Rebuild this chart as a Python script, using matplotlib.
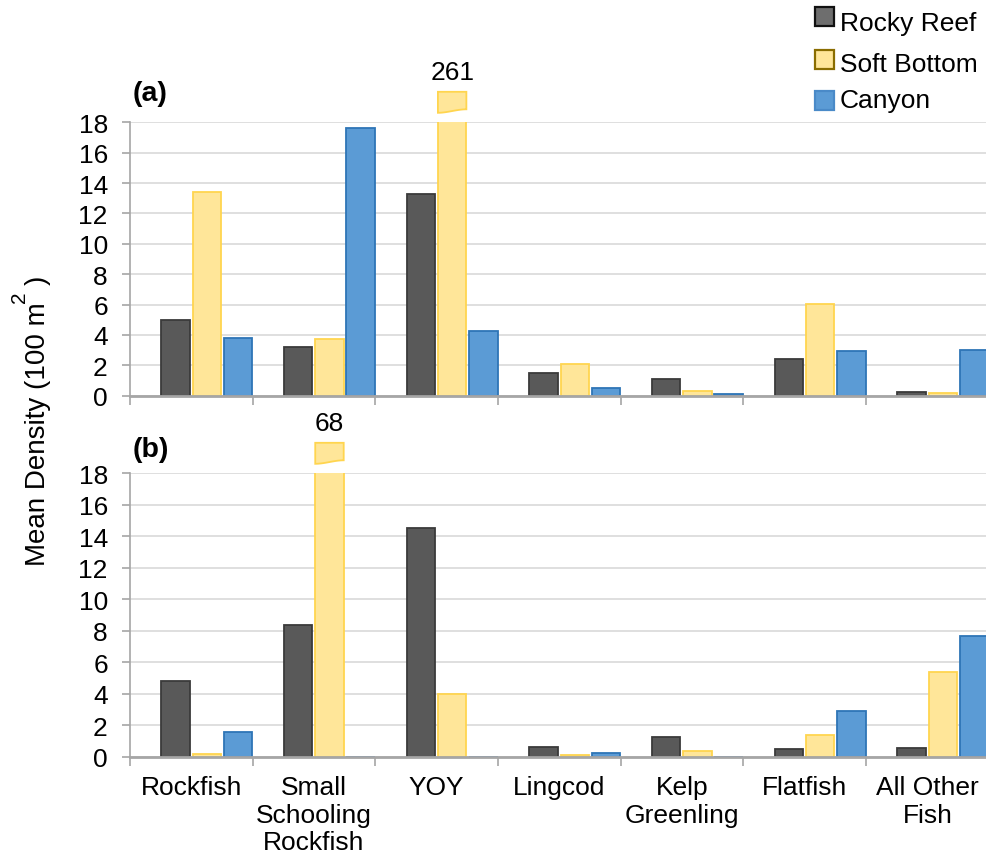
import numpy as np
import matplotlib
matplotlib.use("Agg")
import matplotlib.pyplot as plt
from matplotlib.patches import Rectangle, Polygon

plt.rcParams['font.family'] = ['Liberation Sans', 'DejaVu Sans']

categories = ["Rockfish", "Small\nSchooling\nRockfish", "YOY", "Lingcod",
              "Kelp\nGreenling", "Flatfish", "All Other\nFish"]
series = ["Rocky Reef", "Soft Bottom", "Canyon"]

a_rocky = [5.0, 3.23, 13.28, 1.47, 1.08, 2.44, 0.22]
a_soft = [13.39, 3.71, 261, 2.10, 0.33, 6.06, 0.15]
a_canyon = [3.82, 17.62, 4.24, 0.53, 0.13, 2.92, 3.00]

b_rocky = [4.79, 8.39, 14.55, 0.62, 1.27, 0.47, 0.55]
b_soft = [0.19, 68, 4.00, 0.08, 0.34, 1.38, 5.36]
b_canyon = [1.59, 0, 0, 0.24, 0, 2.92, 7.67]

yticks = [0, 2, 4, 6, 8, 10, 12, 14, 16, 18]

fills = ["#595959", "#FFE699", "#5B9BD5"]
edges = ["#3A3A3A", "#FFD54F", "#2E75B6"]

FS = 19

W, H = 987, 862
fig = plt.figure(figsize=(W / 100, H / 100), dpi=100)

def fx(px):
    return px / W

def fy(py):
    return 1 - py / H

left = 130
right = 988.7
ax_a = fig.add_axes([fx(left), fy(396.7), (right - left) / W, (396.7 - 123.3) / H])
ax_b = fig.add_axes([fx(left), fy(757.7), (right - left) / W, (757.7 - 474.3) / H])

n = len(categories)
x = np.arange(n) + 0.5
offsets = [-0.13, 0.126, 0.38]
bw = 0.232
ymax = 18


def draw(ax, data, show_labels):
    ax.set_xlim(0, n)
    ax.set_ylim(0, ymax)
    ax.set_yticks(yticks)
    ax.grid(axis='y', color='#D9D9D9', linewidth=1.2, zorder=0)
    ax.set_axisbelow(True)
    for s, (vals, fc, ec, off) in enumerate(zip(data, fills, edges, offsets)):
        ax.bar(x + off, vals, width=bw, color=fc, edgecolor=ec, linewidth=1.3, zorder=3)
        for xi, v in zip(x + off, vals):
            if v > ymax:
                # break cap above axis
                t = np.linspace(0, 1, 30)
                xl, xr = xi - bw / 2, xi + bw / 2
                scale = ax.get_position().height * H / ymax  # px per unit
                top = ymax + 30.5 / scale
                bot0 = ymax + 9.5 / scale
                bot1 = ymax + 13.0 / scale
                xs_b = xl + t * (xr - xl)
                ys_b = bot0 + (bot1 - bot0) * (3 * t ** 2 - 2 * t ** 3)
                pts = [(xl, top), (xr, top)] + list(zip(xs_b[::-1], ys_b[::-1]))
                poly = Polygon(pts, closed=True, facecolor=fc, edgecolor=ec,
                               linewidth=1.3, clip_on=False, zorder=4)
                ax.add_patch(poly)
                ax.text(xi, top + 8 / scale, f"{v:g}", ha='center', va='bottom',
                        fontsize=FS, clip_on=False)
    for sp in ['top', 'right']:
        ax.spines[sp].set_visible(False)
    ax.spines['left'].set_color('#A6A6A6')
    ax.spines['left'].set_linewidth(1.2)
    ax.spines['bottom'].set_color('#A6A6A6')
    ax.spines['bottom'].set_linewidth(2.0)
    ax.spines['bottom'].set_zorder(5)
    ax.set_xticks(np.arange(n + 1))
    ax.set_xticklabels([])
    ax.set_xticks(x, minor=True)
    if show_labels:
        ax.set_xticklabels(categories, minor=True, fontsize=FS)
    else:
        ax.set_xticklabels([], minor=True)
    ax.tick_params(axis='x', which='major', length=6.5, width=1.2, color='#A6A6A6', direction='out')
    ax.tick_params(axis='x', which='minor', length=0, pad=13)
    ax.tick_params(axis='y', length=6, width=1.2, color='#A6A6A6', labelsize=FS, pad=10)


draw(ax_a, [a_rocky, a_soft, a_canyon], False)
draw(ax_b, [b_rocky, b_soft, b_canyon], True)

fig.text(fx(133), fy(94), "(a)", fontsize=20.5, fontweight='bold', ha='left', va='center')
fig.text(fx(133), fy(450), "(b)", fontsize=20.5, fontweight='bold', ha='left', va='center')

# y label with raised superscript
fig.text(fx(38), fy(566), "Mean Density (100 m", rotation=90, fontsize=20,
         ha='center', va='bottom')
fig.text(fx(20), fy(297), "2", rotation=90, fontsize=15, ha='center', va='center')
fig.text(fx(38), fy(280), ")", rotation=90, fontsize=20, ha='center', va='center')

# legend
leg_fill = ["#6E6E6E", "#FFE699", "#5B9BD5"]
leg_edge = ["#111111", "#8A6D00", "#4A8AC8"]
sq_y = [8, 51, 92]
txt_y = [24, 65.5, 101]
for lab, fc, ec, sy, ty in zip(series, leg_fill, leg_edge, sq_y, txt_y):
    fig.patches.append(Rectangle((fx(815.5), fy(sy + 19)), 19 / W, 19 / H,
                                 transform=fig.transFigure, facecolor=fc,
                                 edgecolor=ec, linewidth=1.6))
    fig.text(fx(840), fy(ty), lab, fontsize=FS, ha='left', va='center')

fig.savefig("out.png", dpi=100)
